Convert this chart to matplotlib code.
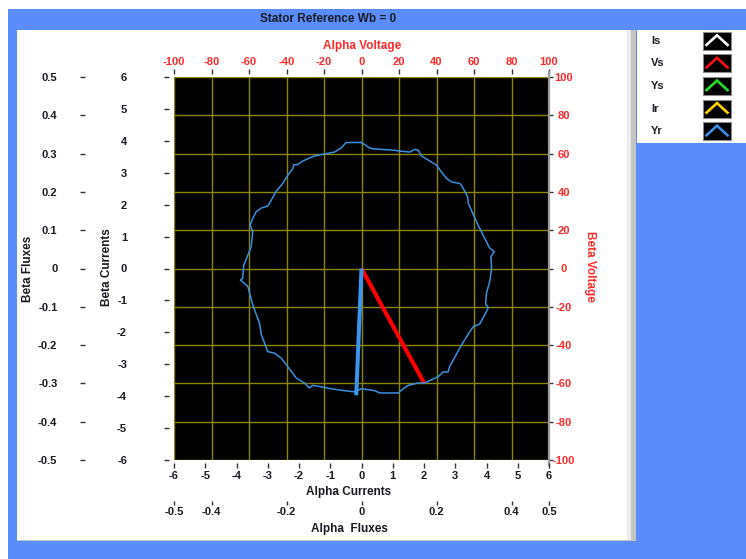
import matplotlib
matplotlib.use("Agg")
import matplotlib.pyplot as plt
from matplotlib.patches import Rectangle

plt.rcParams['font.family'] = ['Liberation Sans', 'DejaVu Sans']
plt.rcParams['axes.unicode_minus'] = False

# ---------------- data ----------------
title = "Stator Reference Wb = 0"

voltage_ticks = [-100, -80, -60, -40, -20, 0, 20, 40, 60, 80, 100]
voltage_labels = ['-100', '-80', '-60', '-40', '-20', '0', '20', '40', '60', '80', '100']
current_ticks = [-6, -5, -4, -3, -2, -1, 0, 1, 2, 3, 4, 5, 6]
current_labels = ['-6', '-5', '-4', '-3', '-2', '-1', '0', '1', '2', '3', '4', '5', '6']
flux_alpha_ticks = [-0.5, -0.4, -0.2, 0.0, 0.2, 0.4, 0.5]
flux_alpha_labels = ['-0.5', '-0.4', '-0.2', '0', '0.2', '0.4', '0.5']
flux_beta_ticks = [-0.5, -0.4, -0.3, -0.2, -0.1, 0.0, 0.1, 0.2, 0.3, 0.4, 0.5]
flux_beta_labels = ['-0.5', '-0.4', '-0.3', '-0.2', '-0.1', '0', '0.1', '0.2', '0.3', '0.4', '0.5']

# stator voltage space vector Vs [V]
vs_alpha = [0.0, 33.4]
vs_beta = [0.0, -59.8]

# rotor flux space vector Yr [Wb]
yr_alpha = [0.0, -0.014]
yr_beta = [0.0, -0.331]

# rotor flux trajectory [Wb]
yr_path_alpha = [
    -0.001, -0.041, -0.054, -0.072, -0.099, -0.125, -0.147, -0.161, -0.170, -0.181,
    -0.183, -0.197, -0.210, -0.227, -0.241, -0.250, -0.267, -0.281, -0.290, -0.297,
    -0.290, -0.294, -0.303, -0.314, -0.317, -0.323, -0.312, -0.303, -0.290, -0.272,
    -0.267, -0.250, -0.232, -0.214, -0.197, -0.174, -0.152, -0.139, -0.130, -0.112,
    -0.081, -0.045, -0.019, 0.000, 0.035, 0.049, 0.098, 0.111, 0.125, 0.151,
    0.169, 0.205, 0.218, 0.231, 0.235, 0.267, 0.289, 0.298, 0.315, 0.331,
    0.338, 0.331, 0.333, 0.342, 0.347, 0.345, 0.354, 0.342, 0.333, 0.311,
    0.293, 0.285, 0.283, 0.267, 0.262, 0.240, 0.227, 0.213, 0.200, 0.178,
    0.160, 0.151, 0.142, 0.129, 0.107, 0.085, 0.053, 0.027, 0.018, 0.000,
]
yr_path_beta = [
    0.329, 0.329, 0.315, 0.304, 0.299, 0.294, 0.285, 0.278, 0.271, 0.271,
    0.261, 0.243, 0.222, 0.202, 0.178, 0.163, 0.158, 0.148, 0.131, 0.113,
    0.096, 0.057, 0.035, 0.009, -0.026, -0.030, -0.039, -0.047, -0.095, -0.143,
    -0.173, -0.217, -0.221, -0.234, -0.256, -0.286, -0.299, -0.312, -0.305, -0.308,
    -0.314, -0.319, -0.322, -0.314, -0.319, -0.325, -0.325, -0.314, -0.305, -0.299,
    -0.299, -0.282, -0.270, -0.270, -0.256, -0.199, -0.165, -0.152, -0.145, -0.117,
    -0.102, -0.093, -0.065, -0.034, 0.001, 0.031, 0.044, 0.053, 0.070, 0.113,
    0.152, 0.170, 0.187, 0.217, 0.222, 0.226, 0.235, 0.252, 0.270, 0.283,
    0.294, 0.309, 0.311, 0.304, 0.306, 0.309, 0.311, 0.313, 0.317, 0.329,
]

legend_names = ['Is', 'Vs', 'Ys', 'Ir', 'Yr']
legend_colors = ['#ffffff', '#ff1010', '#22e022', '#ffd400', '#3a8ee6']

# ---------------- styling ----------------
W, H = 746, 559
FRAME_BLUE = '#5a8dfb'
TEXT = '#1a1a22'
RED = '#ff2a2a'
GRID = '#8a8600'
FLUX_BLUE = '#3b8fe0'
FS = 8


def fig_box(x0, y0, x1, y1):
    """Pixel box (top-left origin) -> figure fraction [left, bottom, width, height]."""
    return [x0 / W, 1 - y1 / H, (x1 - x0) / W, (y1 - y0) / H]


def add_rect(fig, x0, y0, x1, y1, color, z=-10):
    l, b, w, h = fig_box(x0, y0, x1, y1)
    fig.add_artist(Rectangle((l, b), w, h, transform=fig.transFigure,
                             facecolor=color, edgecolor='none', zorder=z))


fig = plt.figure(figsize=(W / 100, H / 100), dpi=100, facecolor='white')

# window frame and panels
add_rect(fig, 8, 9, W, H, FRAME_BLUE, z=-10)
add_rect(fig, 17, 30, 636, 541, '#c4c4c4', z=-9)
add_rect(fig, 17, 30, 631, 540, '#ececec', z=-8)
add_rect(fig, 17, 30, 627, 540, 'white', z=-7)
add_rect(fig, 637, 30, W, 143, 'white', z=-7)

fig.text(328 / W, 1 - 19.5 / H, title, ha='center', va='center',
         fontsize=8.5, fontweight='bold', color=TEXT)

PLOT = fig_box(174, 77, 549, 460)
PX0, PX1, PY0, PY1 = 174, 549, 77, 460


def axes_xy(px, py):
    return (px - PX0) / (PX1 - PX0), (PY1 - py) / (PY1 - PY0)


def place_label(label, px, py):
    label.set_ha('center')
    label.set_va('center')


PT = 0.72  # points per pixel at 100 dpi

# ---- voltage axes: black plot area, grid, top / right scales ----
ax_v = fig.add_axes(PLOT, zorder=1)
ax_v.set_facecolor('black')
ax_v.set_xlim(-100, 100)
ax_v.set_ylim(-100, 100)
ax_v.set_xticks(voltage_ticks)
ax_v.set_xticklabels(voltage_labels)
ax_v.set_yticks(voltage_ticks)
ax_v.set_yticklabels(voltage_labels)
ax_v.xaxis.tick_top()
ax_v.yaxis.tick_right()
ax_v.grid(True, color=GRID, linewidth=1.0)
ax_v.set_axisbelow(True)
for s in ('left', 'bottom', 'top'):
    ax_v.spines[s].set_visible(False)
ax_v.spines['top'].set_position(('outward', 3 * PT))
ax_v.spines['right'].set_color('#9c9c9c')
ax_v.spines['right'].set_linewidth(1.6)
ax_v.spines['right'].set_bounds(-102.6, 102.6)
ax_v.tick_params(axis='x', which='both', top=True, bottom=False, labeltop=True, labelbottom=False,
                 direction='out', length=5 * PT, width=1, color='#333333',
                 pad=2 * PT, labelsize=FS, labelcolor=RED)
ax_v.tick_params(axis='y', which='both', right=True, left=False, labelright=True, labelleft=False,
                 direction='out', length=4 * PT, width=1, color='#333333',
                 pad=11 * PT, labelsize=FS, labelcolor=RED)
for lbl in ax_v.get_xticklabels() + ax_v.get_yticklabels():
    lbl.set_fontweight('bold')
for lbl in ax_v.get_yticklabels():
    lbl.set_ha('center')

ax_v.xaxis.set_label_position('top')
ax_v.set_xlabel('Alpha Voltage', color=RED, fontsize=FS + 0.5, fontweight='bold')
ax_v.xaxis.set_label_coords(*axes_xy(362, 46.5))
ax_v.yaxis.set_label_position('right')
ax_v.set_ylabel('Beta Voltage', color=RED, fontsize=FS + 0.5, fontweight='bold', rotation=270)
ax_v.yaxis.set_label_coords(*axes_xy(589.5, 266))
for lab in (ax_v.xaxis.label, ax_v.yaxis.label):
    lab.set_ha('center')
    lab.set_va('center')

ax_v.plot(vs_alpha, vs_beta, color='#ff0000', linewidth=3.0, solid_capstyle='butt', zorder=5)

# ---- flux axes: rotor flux trajectory and vector, outer left / bottom scales ----
ax_f = fig.add_axes(PLOT, zorder=2)
ax_f.patch.set_alpha(0)
ax_f.set_xlim(-0.5, 0.5)
ax_f.set_ylim(-0.5, 0.5)
for s in ax_f.spines.values():
    s.set_visible(False)
ax_f.spines['bottom'].set_position(('outward', 40.7 * PT))
ax_f.spines['left'].set_position(('outward', 88.7 * PT))
ax_f.set_xticks(flux_alpha_ticks)
ax_f.set_xticklabels(flux_alpha_labels)
ax_f.set_yticks(flux_beta_ticks)
ax_f.set_yticklabels(flux_beta_labels)
ax_f.tick_params(axis='x', direction='out', length=3.6 * PT, width=1, color='#333333',
                 pad=3 * PT, labelsize=FS, labelcolor=TEXT)
ax_f.tick_params(axis='y', direction='out', length=5.3 * PT, width=1, color='#333333',
                 pad=22.5 * PT, labelsize=FS, labelcolor=TEXT)
for lbl in ax_f.get_xticklabels() + ax_f.get_yticklabels():
    lbl.set_fontweight('bold')
ax_f.set_xlabel('Alpha  Fluxes', color=TEXT, fontsize=FS + 0.5, fontweight='bold')
ax_f.xaxis.set_label_coords(*axes_xy(349, 529))
ax_f.set_ylabel('Beta Fluxes', color=TEXT, fontsize=FS + 0.5, fontweight='bold')
ax_f.yaxis.set_label_coords(*axes_xy(27.7, 269))
for lab in (ax_f.xaxis.label, ax_f.yaxis.label):
    lab.set_ha('center')
    lab.set_va('center')

ax_f.plot(yr_path_alpha, yr_path_beta, color=FLUX_BLUE, linewidth=1.1)
ax_f.plot(yr_alpha, yr_beta, color='#3a95f0', linewidth=2.9, solid_capstyle='butt')

# ---- current axes: inner left / bottom scales ----
ax_i = fig.add_axes(PLOT, zorder=3)
ax_i.patch.set_alpha(0)
ax_i.set_xlim(-6, 6)
ax_i.set_ylim(-6, 6)
for s in ax_i.spines.values():
    s.set_visible(False)
ax_i.spines['bottom'].set_position(('outward', 3 * PT))
ax_i.spines['left'].set_position(('outward', 5 * PT))
ax_i.set_xticks(current_ticks)
ax_i.set_xticklabels(current_labels)
ax_i.set_yticks(current_ticks)
ax_i.set_yticklabels(current_labels)
ax_i.tick_params(axis='x', direction='out', length=5 * PT, width=1, color='#333333',
                 pad=3 * PT, labelsize=FS, labelcolor=TEXT)
ax_i.tick_params(axis='y', direction='out', length=5 * PT, width=1, color='#333333',
                 pad=37 * PT, labelsize=FS, labelcolor=TEXT)
for lbl in ax_i.get_xticklabels() + ax_i.get_yticklabels():
    lbl.set_fontweight('bold')
ax_i.set_xlabel('Alpha Currents', color=TEXT, fontsize=FS + 0.5, fontweight='bold')
ax_i.xaxis.set_label_coords(*axes_xy(348.5, 491.7))
ax_i.set_ylabel('Beta Currents', color=TEXT, fontsize=FS + 0.5, fontweight='bold')
ax_i.yaxis.set_label_coords(*axes_xy(106.7, 267))
for lab in (ax_i.xaxis.label, ax_i.yaxis.label):
    lab.set_ha('center')
    lab.set_va('center')

# ---- legend panel ----
ax_l = fig.add_axes(fig_box(637, 30, W, 143), zorder=4)
ax_l.set_xlim(637, W)
ax_l.set_ylim(143, 30)
ax_l.axis('off')
row0, row_step = 40.8, 22.6
for i, (name, col) in enumerate(zip(legend_names, legend_colors)):
    cy = row0 + i * row_step
    ax_l.text(651, cy, name, ha='left', va='center', fontsize=FS,
              fontweight='bold', color=TEXT)
    ax_l.add_patch(Rectangle((703, cy - 9), 28, 18, facecolor='black',
                             edgecolor='#8a8a8a', linewidth=0.8))
    ax_l.plot([705.5, 717, 728.5], [cy + 5, cy - 5.5, cy + 5], color=col,
              linewidth=1.9, solid_joinstyle='miter', solid_capstyle='butt')

fig.savefig('out.png', dpi=100, facecolor='white')
